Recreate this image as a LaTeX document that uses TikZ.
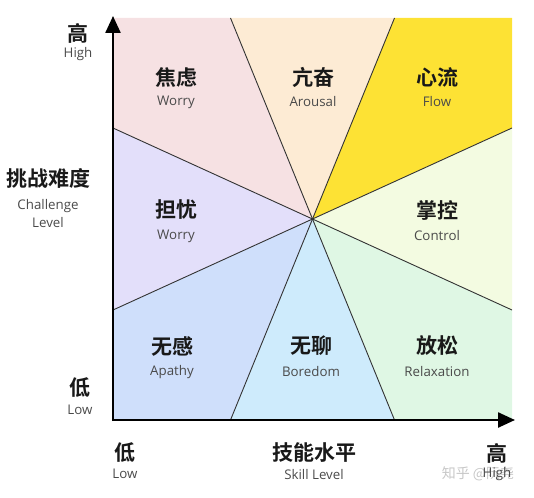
\documentclass[tikz,border=0pt]{standalone}
\usepackage{fontspec}
\setmainfont{Open Sans}
\newfontfamily\cjkb{Noto Sans CJK SC Bold}
\newfontfamily\cjkr{Noto Sans CJK SC}
\usetikzlibrary{arrows.meta}
\definecolor{cWorryA}{HTML}{F6E1E3}
\definecolor{cArousal}{HTML}{FDEBD4}
\definecolor{cFlow}{HTML}{FDE234}
\definecolor{cControl}{HTML}{F3FBE1}
\definecolor{cRelax}{HTML}{DFF7E4}
\definecolor{cBore}{HTML}{CEEBFC}
\definecolor{cApathy}{HTML}{CFDFFB}
\definecolor{cWorryB}{HTML}{E3DFFA}
\definecolor{engray}{HTML}{4A4A4A}
\tikzset{
  zh/.style={font=\cjkb\fontsize{21}{21}\selectfont, text=black!90, inner sep=0pt},
  en/.style={font=\fontsize{13.3}{14}\selectfont, text=engray, inner sep=0pt},
  sector/.style={draw=black!80, line width=0.9pt, line join=round},
  axis/.style={line width=2.4pt, -{Triangle[length=17pt,width=15pt]}},
}
\begin{document}
\begin{tikzpicture}[x=1pt,y=-1pt]
\useasboundingbox (0,0) rectangle (534,497);
% key points
\coordinate (C) at (312.5,219);
\coordinate (TL) at (113,18);
\coordinate (TR) at (512,18);
\coordinate (BR) at (512,420);
\coordinate (BL) at (113,420);
\coordinate (T1) at (230.5,18);
\coordinate (T2) at (394.5,18);
\coordinate (B1) at (230.5,420);
\coordinate (B2) at (394.5,420);
\coordinate (L1) at (113,128);
\coordinate (L2) at (113,310);
\coordinate (R1) at (512,128);
\coordinate (R2) at (512,310);
% sectors
\fill[cWorryA] (TL) -- (T1) -- (C) -- (L1) -- cycle;
\fill[cArousal] (T1) -- (T2) -- (C) -- cycle;
\fill[cFlow] (T2) -- (TR) -- (R1) -- (C) -- cycle;
\fill[cControl] (R1) -- (R2) -- (C) -- cycle;
\fill[cRelax] (R2) -- (BR) -- (B2) -- (C) -- cycle;
\fill[cBore] (B2) -- (B1) -- (C) -- cycle;
\fill[cApathy] (B1) -- (BL) -- (L2) -- (C) -- cycle;
\fill[cWorryB] (L2) -- (L1) -- (C) -- cycle;
% boundaries
\draw[sector] (T1) -- (C) -- (B2);
\draw[sector] (T2) -- (C) -- (B1);
\draw[sector] (L1) -- (C) -- (R2);
\draw[sector] (L2) -- (C) -- (R1);
% axes
\coordinate (Ytop) at (113,16);
\coordinate (Xend) at (515,420);
\draw[axis] (113,421.2) -- (Ytop);
\draw[axis] (111.8,420) -- (Xend);
% region labels
\node[zh] (z1) at (176,77) {焦虑};
\node[en] (e1) at (176,102) {Worry};
\node[zh] (z2) at (313,77) {亢奋};
\node[en] (e2) at (313,102) {Arousal};
\node[zh] (z3) at (437,77) {心流};
\node[en] (e3) at (437,102) {Flow};
\node[zh] (z4) at (176,210) {担忧};
\node[en] (e4) at (176,236) {Worry};
\node[zh] (z5) at (437,210) {掌控};
\node[en] (e5) at (437,236) {Control};
\node[zh] (z6) at (172,346) {无感};
\node[en] (e6) at (172,372) {Apathy};
\node[zh] (z7) at (311,346) {无聊};
\node[en] (e7) at (311,372) {Boredom};
\node[zh] (z8) at (437,346) {放松};
\node[en] (e8) at (437,372) {Relaxation};
% y axis labels
\node[zh] (yh) at (78,33) {高};
\node[en] (yhe) at (78,54) {High};
\node[zh] (yt) at (48,178) {挑战难度};
\node[en] (yte1) at (48,206) {Challenge};
\node[en] (yte2) at (48,223) {Level};
\node[zh] (yl) at (80,388) {低};
\node[en] (yle) at (80,410) {Low};
% x axis labels
\node[zh] (xl) at (125,453) {低};
\node[en] (xle) at (125,474) {Low};
\node[zh] (xt) at (314,453) {技能水平};
\node[en] (xte) at (314,475) {Skill Level};
\node[zh] (xh) at (497,453) {高};
% watermark
\node[font=\cjkr\fontsize{14}{14}\selectfont, text=black!22, inner sep=0pt] (wm) at (478,474) {知乎 @阮尧};
\node[en] (xhe) at (497,474) {High};
\end{tikzpicture}
\end{document}
